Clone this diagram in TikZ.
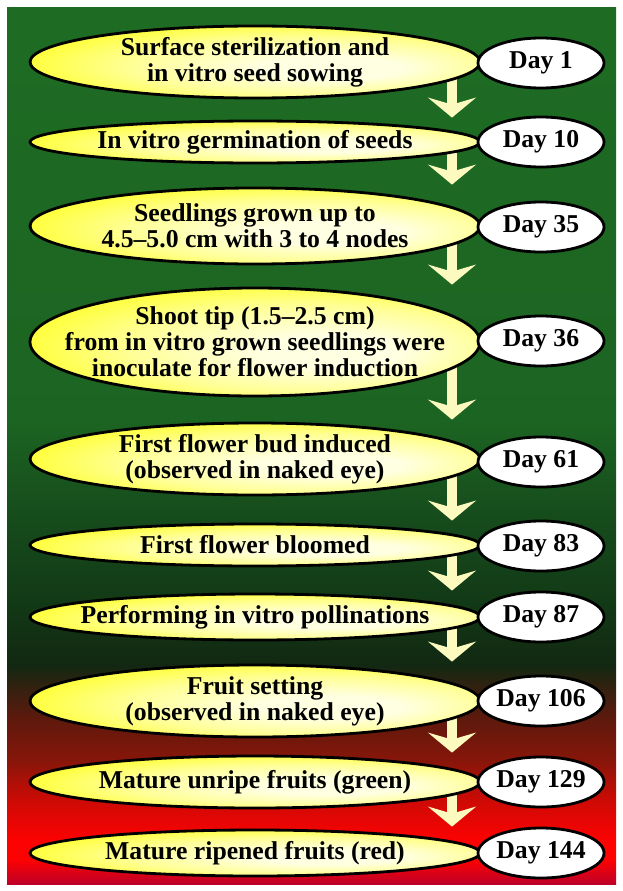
\documentclass[tikz,border=0pt]{standalone}
\usepackage{fontspec}
\setmainfont{Liberation Serif}
\usetikzlibrary{shapes.geometric,arrows.meta}
\pgfdeclarelayer{bg}
\pgfdeclarelayer{arr}
\pgfsetlayers{bg,arr,main}
\definecolor{bgA}{RGB}{190,0,40}
\definecolor{bgB}{RGB}{252,2,2}
\definecolor{bgC}{RGB}{205,10,5}
\definecolor{bgD}{RGB}{135,22,10}
\definecolor{bgE}{RGB}{95,25,12}
\definecolor{bgF}{RGB}{55,32,15}
\definecolor{bgG}{RGB}{18,40,18}
\definecolor{bgH}{RGB}{18,58,22}
\definecolor{bgI}{RGB}{22,75,28}
\definecolor{bgJ}{RGB}{28,100,34}
\definecolor{bgK}{RGB}{30,108,36}
\definecolor{ypale}{RGB}{255,255,225}
\definecolor{ymid}{RGB}{255,255,150}
\definecolor{yedge}{RGB}{255,255,55}
\definecolor{arrowcol}{RGB}{252,250,190}
\pgfdeclareverticalshading{bgshade}{100bp}{color(0bp)=(bgA); color(25bp)=(bgA); color(26.4bp)=(bgB); color(27.5bp)=(bgB); color(29.79bp)=(bgC); color(32.08bp)=(bgD); color(34.36bp)=(bgE); color(36.07bp)=(bgF); color(37.5bp)=(bgG); color(41.21bp)=(bgH); color(45.78bp)=(bgI); color(51.48bp)=(bgJ); color(75bp)=(bgK); color(100bp)=(bgK)}
\pgfdeclareradialshading{ellshade}{\pgfpoint{10bp}{-5bp}}{color(0bp)=(ypale); color(8bp)=(ypale); color(20bp)=(ymid); color(30bp)=(yedge); color(50bp)=(yedge)}
\tikzset{
  stage/.style={ellipse, draw=black, line width=2.8pt, shading=ellshade,
    minimum width=450pt, inner sep=-120pt, align=center,
    font=\fontsize{25.7}{26}\selectfont\bfseries},
  dayell/.style={ellipse, draw=black, line width=2.8pt, fill=white,
    minimum width=126pt, minimum height=50pt, inner sep=-60pt,
    font=\fontsize{25.7}{26}\selectfont\bfseries},
  flowarrow/.style={draw=arrowcol, line width=10pt,
    -{Stealth[length=20pt,width=48pt,inset=7pt]}, shorten >=2pt}
}
\begin{document}
\begin{tikzpicture}[x=1pt,y=-1pt]
\useasboundingbox (0,0) rectangle (622,891);
\begin{pgfonlayer}{bg}
\fill[white] (0,0) rectangle (622,891);
\shade[shading=bgshade] (7,8) rectangle (616,884);
\end{pgfonlayer}
\coordinate (ax) at (452,0);
\node[stage, minimum height=72pt] (e1) at (255,62) {Surface sterilization and\\in vitro seed sowing};
\node[stage, minimum height=42pt] (e2) at (255,142) {In vitro germination of seeds};
\node[stage, minimum height=76pt] (e3) at (255,226) {Seedlings grown up to\\4.5–5.0 cm with 3 to 4 nodes};
\node[stage, minimum height=108pt] (e4) at (255,342) {Shoot tip (1.5–2.5 cm)\\from in vitro grown seedlings were\\inoculate for flower induction};
\node[stage, minimum height=72pt] (e5) at (255,459) {First flower bud induced\\(observed in naked eye)};
\node[stage, minimum height=42pt] (e6) at (255,545) {First flower bloomed};
\node[stage, minimum height=46pt] (e7) at (255,617) {Performing in vitro pollinations};
\node[stage, minimum height=72pt] (e8) at (255,701) {Fruit setting\\(observed in naked eye)};
\node[stage, minimum height=52pt] (e9) at (255,782) {Mature unripe fruits (green)};
\node[stage, minimum height=46pt] (e10) at (255,853) {Mature ripened fruits (red)};
\node[dayell] (d1) at (541,63) {Day 1};
\node[dayell] (d2) at (541,142) {Day 10};
\node[dayell] (d3) at (541,227) {Day 35};
\node[dayell] (d4) at (541,341) {Day 36};
\node[dayell] (d5) at (541,462) {Day 61};
\node[dayell] (d6) at (541,546) {Day 83};
\node[dayell] (d7) at (541,617) {Day 87};
\node[dayell] (d8) at (541,701) {Day 106};
\node[dayell] (d9) at (541,782) {Day 129};
\node[dayell] (d10) at (541,853) {Day 144};
\begin{pgfonlayer}{arr}
\foreach \a/\b in {e1/e2,e2/e3,e3/e4,e4/e5,e5/e6,e6/e7,e7/e8,e8/e9,e9/e10}
  \draw[flowarrow] (\a.center -| ax) -- (\b.north -| ax);
\end{pgfonlayer}
\end{tikzpicture}
\end{document}
